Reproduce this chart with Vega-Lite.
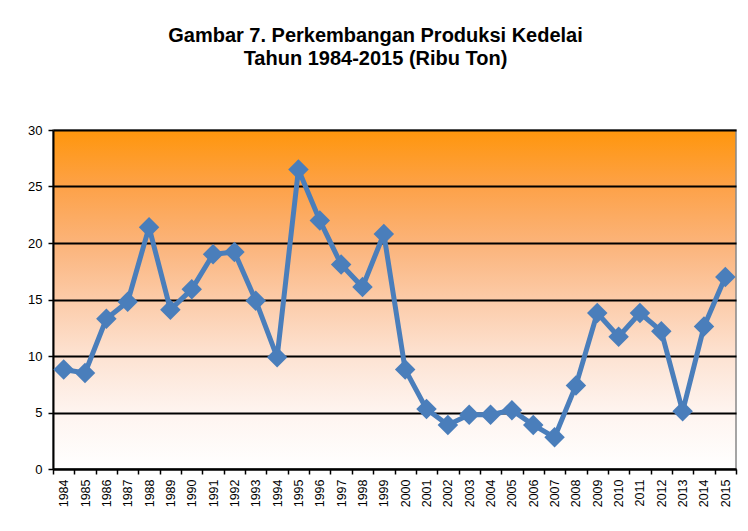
{
  "$schema": "https://vega.github.io/schema/vega-lite/v6.json",
  "width": 683,
  "height": 339,
  "autosize": {"type": "none"},
  "padding": {"left": 53, "top": 130, "right": 12, "bottom": 62},
  "background": "white",
  "title": {
    "text": ["Gambar 7. Perkembangan Produksi Kedelai", "Tahun 1984-2015 (Ribu Ton)"],
    "font": "Liberation Sans",
    "fontSize": 20,
    "fontWeight": "bold",
    "color": "black",
    "anchor": "middle",
    "dx": -19,
    "offset": 55,
    "lineHeight": 23
  },
  "config": {
    "view": {
      "stroke": "#888888",
      "strokeWidth": 1.5,
      "fill": {
        "gradient": "linear",
        "x1": 0, "y1": 0, "x2": 0, "y2": 1,
        "stops": [
          {"offset": 0, "color": "#ff960c"},
          {"offset": 0.17, "color": "#fda249"},
          {"offset": 0.34, "color": "#fbb47b"},
          {"offset": 0.5, "color": "#fccba8"},
          {"offset": 0.67, "color": "#fde3d3"},
          {"offset": 0.83, "color": "#fef4ef"},
          {"offset": 1, "color": "#ffffff"}
        ]
      }
    },
    "axis": {
      "labelFont": "Liberation Sans",
      "labelColor": "black",
      "domainColor": "black",
      "tickColor": "black",
      "domainWidth": 2,
      "tickWidth": 1.5
    }
  },
  "data": {
    "values": [
      {"tahun": "1984", "produksi": 8.8},
      {"tahun": "1985", "produksi": 8.5},
      {"tahun": "1986", "produksi": 13.3},
      {"tahun": "1987", "produksi": 14.8},
      {"tahun": "1988", "produksi": 21.4},
      {"tahun": "1989", "produksi": 14.1},
      {"tahun": "1990", "produksi": 15.9},
      {"tahun": "1991", "produksi": 19.0},
      {"tahun": "1992", "produksi": 19.2},
      {"tahun": "1993", "produksi": 14.9},
      {"tahun": "1994", "produksi": 9.9},
      {"tahun": "1995", "produksi": 26.5},
      {"tahun": "1996", "produksi": 22.0},
      {"tahun": "1997", "produksi": 18.1},
      {"tahun": "1998", "produksi": 16.1},
      {"tahun": "1999", "produksi": 20.8},
      {"tahun": "2000", "produksi": 8.8},
      {"tahun": "2001", "produksi": 5.3},
      {"tahun": "2002", "produksi": 3.9},
      {"tahun": "2003", "produksi": 4.8},
      {"tahun": "2004", "produksi": 4.8},
      {"tahun": "2005", "produksi": 5.2},
      {"tahun": "2006", "produksi": 3.9},
      {"tahun": "2007", "produksi": 2.8},
      {"tahun": "2008", "produksi": 7.4},
      {"tahun": "2009", "produksi": 13.8},
      {"tahun": "2010", "produksi": 11.7},
      {"tahun": "2011", "produksi": 13.8},
      {"tahun": "2012", "produksi": 12.2},
      {"tahun": "2013", "produksi": 5.1},
      {"tahun": "2014", "produksi": 12.6},
      {"tahun": "2015", "produksi": 17.0}
    ]
  },
  "encoding": {
    "x": {
      "field": "tahun",
      "type": "ordinal",
      "scale": {"type": "band", "paddingInner": 0, "paddingOuter": 0},
      "axis": {
        "title": null,
        "labelAngle": -90,
        "labelAlign": "right",
        "labelBaseline": "middle",
        "labelFontSize": 12.5,
        "labelPadding": 5,
        "tickBand": "extent",
        "tickSize": 5
      }
    },
    "y": {
      "field": "produksi",
      "type": "quantitative",
      "scale": {"domain": [0, 30], "nice": false},
      "axis": {
        "title": null,
        "values": [0, 5, 10, 15, 20, 25, 30],
        "grid": true,
        "gridColor": "black",
        "gridWidth": 1.8,
        "gridOpacity": 1,
        "labelFontSize": 13,
        "labelPadding": 6,
        "tickSize": 5
      }
    }
  },
  "layer": [
    {"mark": {"type": "line", "color": "#4a7ebb", "strokeWidth": 5}},
    {"mark": {"type": "point", "shape": "diamond", "size": 420, "filled": true, "color": "#4a7ebb", "opacity": 1}}
  ]
}
